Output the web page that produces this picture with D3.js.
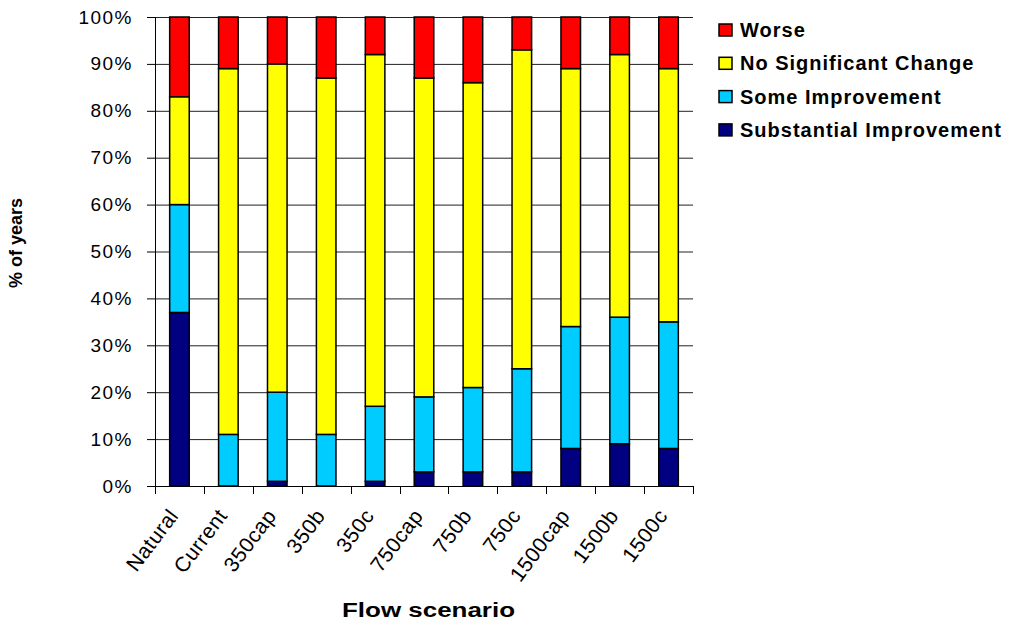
<!DOCTYPE html>
<html>
<head>
<meta charset="utf-8">
<script src="https://cdn.jsdelivr.net/npm/d3@7"></script>
<style>
  body { margin: 0; background: #fff; }
  text { font-family: Arial, "Liberation Sans", sans-serif; }
</style>
</head>
<body>
<div id="container"></div>
<script>
const scenarios = ['Natural', 'Current', '350cap', '350b', '350c', '750cap', '750b', '750c', '1500cap', '1500b', '1500c'];
const substantial = [37, 0, 1, 0, 1, 3, 3, 3, 8, 9, 8];
const someImprovement = [23, 11, 19, 11, 16, 16, 18, 22, 26, 27, 27];
const noChange = [23, 78, 70, 76, 75, 68, 65, 68, 55, 56, 54];
const worse = [17, 11, 10, 13, 8, 13, 14, 7, 11, 8, 11];
const yTicks = [0, 10, 20, 30, 40, 50, 60, 70, 80, 90, 100];

const seriesNames = ['Substantial Improvement', 'Some Improvement', 'No Significant Change', 'Worse'];
const colors = ['#000080', '#00ccff', '#ffff00', '#ff0000'];

const W = 1009, H = 625;
const margin = { left: 155, top: 17, right: 316, bottom: 139 };
const width = W - margin.left - margin.right;
const height = H - margin.top - margin.bottom;

const rows = scenarios.map(function (s, i) {
  return {
    scenario: s,
    'Substantial Improvement': substantial[i],
    'Some Improvement': someImprovement[i],
    'No Significant Change': noChange[i],
    'Worse': worse[i]
  };
});

const stacked = d3.stack().keys(seriesNames)(rows);

const svg = d3.select('#container')
  .append('svg')
  .attr('width', W)
  .attr('height', H);

const g = svg.append('g')
  .attr('transform', 'translate(' + margin.left + ',' + margin.top + ')');

const xScale = d3.scaleBand()
  .domain(scenarios)
  .range([0, width])
  .paddingInner(0.6)
  .paddingOuter(0.3);

const yScale = d3.scaleLinear()
  .domain([0, 100])
  .range([height, 0]);

// gridlines
g.append('g')
  .selectAll('line')
  .data(yTicks.filter(function (d) { return d > 0; }))
  .enter()
  .append('line')
  .attr('x1', 0)
  .attr('x2', width)
  .attr('y1', function (d) { return yScale(d) + 0.5; })
  .attr('y2', function (d) { return yScale(d) + 0.5; })
  .style('stroke', '#222')
  .style('stroke-width', 1);

// bars
g.selectAll('.layer')
  .data(stacked)
  .enter()
  .append('g')
  .attr('class', 'layer')
  .style('fill', function (d, i) { return colors[i]; })
  .selectAll('rect')
  .data(function (d) { return d.filter(function (p) { return p[1] - p[0] > 0; }); })
  .enter()
  .append('rect')
  .attr('x', function (d) { return xScale(d.data.scenario); })
  .attr('y', function (d) { return yScale(d[1]); })
  .attr('width', xScale.bandwidth())
  .attr('height', function (d) { return yScale(d[0]) - yScale(d[1]); })
  .style('stroke', '#000')
  .style('stroke-width', 1.5);

// y axis
const yAxis = d3.axisLeft(yScale)
  .tickValues(yTicks)
  .tickSize(8)
  .tickPadding(14)
  .tickFormat(function (d) { return d + '%'; });

const yG = g.append('g').call(yAxis);
yG.select('.domain').attr('d', 'M0.5,0V' + height);
yG.selectAll('line').style('stroke', '#000');
yG.selectAll('text')
  .style('font-size', '19px')
  .style('letter-spacing', '1.5px')
  .style('fill', '#000');

// x axis with ticks at category boundaries
const boundaries = d3.range(scenarios.length + 1).map(function (i) { return i * width / scenarios.length; });
const xG = g.append('g').attr('transform', 'translate(0,' + height + ')');
xG.append('line')
  .attr('x1', 0).attr('x2', width)
  .attr('y1', 0.5).attr('y2', 0.5)
  .style('stroke', '#000');
xG.selectAll('.xtick')
  .data(boundaries)
  .enter()
  .append('line')
  .attr('class', 'xtick')
  .attr('x1', function (d) { return Math.round(d) + 0.5; })
  .attr('x2', function (d) { return Math.round(d) + 0.5; })
  .attr('y1', 0)
  .attr('y2', 8)
  .style('stroke', '#000');

xG.selectAll('.xlabel')
  .data(scenarios)
  .enter()
  .append('text')
  .attr('class', 'xlabel')
  .attr('transform', function (d) {
    const cx = xScale(d) + xScale.bandwidth() / 2;
    return 'translate(' + cx + ',30) rotate(-53)';
  })
  .style('text-anchor', 'end')
  .style('font-size', '21px')
  .style('letter-spacing', '0.5px')
  .text(function (d) { return d; });

// axis titles
svg.append('text')
  .attr('x', 342)
  .attr('y', 617)
  .attr('textLength', 173)
  .attr('lengthAdjust', 'spacingAndGlyphs')
  .style('font-size', '20px')
  .style('font-weight', 'bold')
  .text('Flow scenario');

svg.append('text')
  .attr('transform', 'translate(22,243) rotate(-90)')
  .style('text-anchor', 'middle')
  .style('font-size', '18px')
  .style('font-weight', 'bold')
  .text('% of years');

// legend (top item is Worse)
const legendItems = seriesNames.slice().reverse();
const legendColors = colors.slice().reverse();
const legend = svg.append('g')
  .attr('transform', 'translate(719,24)')
  .selectAll('.legend-item')
  .data(legendItems)
  .enter()
  .append('g')
  .attr('class', 'legend-item')
  .attr('transform', function (d, i) { return 'translate(0,' + i * 33.3 + ')'; });

legend.append('rect')
  .attr('width', 13)
  .attr('height', 12)
  .style('fill', function (d, i) { return legendColors[i]; })
  .style('stroke', '#000')
  .style('stroke-width', 1.5);

legend.append('text')
  .attr('x', 21)
  .attr('y', 13)
  .style('font-size', '20px')
  .style('font-weight', 'bold')
  .style('letter-spacing', '1px')
  .text(function (d) { return d; });
</script>
</body>
</html>
